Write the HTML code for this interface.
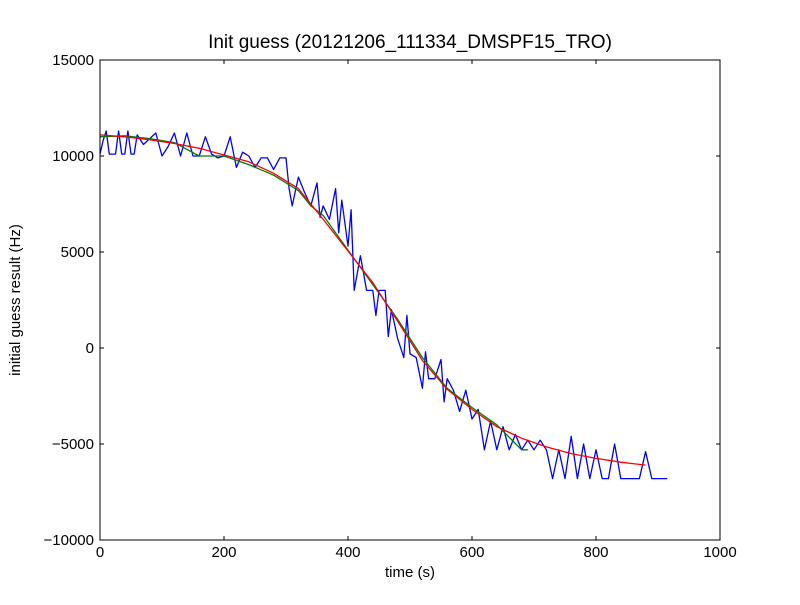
<!DOCTYPE html>
<html><head><meta charset="utf-8"><style>
body{margin:0;background:#fff;width:800px;height:600px;overflow:hidden}
svg{font-family:"Liberation Sans","DejaVu Sans",sans-serif}
</style></head><body>
<svg id="c" width="800" height="600">
<rect width="800" height="600" fill="#fff"/>
<text x="410" y="48" font-size="19" text-anchor="middle">Init guess (20121206_111334_DMSPF15_TRO)</text>
<text x="410" y="577" font-size="15" text-anchor="middle">time (s)</text>
<text x="20" y="300" font-size="15" text-anchor="middle" transform="rotate(-90 20 300)">initial guess result (Hz)</text>
<g id="ticks"></g>
<g id="series"></g>
<rect x="100" y="60" width="620" height="480" fill="none" stroke="#000" stroke-width="1"/>
</svg>
<script>
const xTicks=[0,200,400,600,800,1000];
const yTicks=[15000,10000,5000,0,-5000,-10000];
const yTickLabels=["15000","10000","5000","0","\u22125000","\u221210000"];
const blueT=[0,5,10,15,20,25,30,35,40,45,50,55,60,70,80,90,100,110,120,130,140,150,160,170,180,190,200,210,220,230,240,250,260,270,280,290,300,305,310,320,330,340,350,355,360,370,380,385,390,400,405,410,420,430,440,445,450,460,465,470,480,490,495,500,510,520,525,530,540,550,555,560,570,580,590,600,610,620,630,640,650,660,670,680,690,700,710,720,730,740,750,760,770,780,790,800,810,820,830,840,850,860,870,880,890,900,915];
const blueV=[10100,10800,11300,10100,10100,10100,11300,10100,10100,11300,10100,10100,11100,10600,10900,11200,10000,10500,11200,10000,11200,10000,10000,11000,10100,9900,10000,11000,9400,10200,10000,9400,9900,9900,9300,9900,9900,8300,7400,8900,8100,7400,8600,6800,7400,6700,8300,6000,7700,5300,7200,3000,4800,3000,3000,1700,3000,3000,600,2000,500,-500,1700,-300,-500,-2100,-200,-1600,-1600,-600,-2800,-1600,-2200,-3300,-2200,-3700,-3200,-5300,-3800,-5300,-4100,-5300,-4500,-5300,-4800,-5300,-4800,-5300,-6800,-5300,-6800,-4600,-6800,-5000,-6800,-5300,-6800,-6800,-5000,-6800,-6800,-6800,-6800,-5400,-6800,-6800,-6800];
const greenT=[0,40,80,120,160,200,240,280,320,340,360,400,440,480,520,560,600,640,680,690];
const greenV=[11000,11050,10900,10700,10000,10000,9550,9000,8200,7400,6900,5100,3300,1500,-500,-2100,-3100,-4000,-5300,-5300];
const redT=[0,40,80,120,160,200,240,280,320,360,400,440,480,520,560,600,640,680,720,760,800,840,880];
const redV=[11100,11000,10850,10650,10400,10050,9700,9100,8300,6700,5050,3400,1400,-650,-2150,-3200,-4100,-4700,-5150,-5500,-5750,-5950,-6100];
const X=v=>100+v*0.62, Y=v=>60+(15000-v)*0.0192;
const NS="http://www.w3.org/2000/svg";
const tk=document.getElementById('ticks'), sr=document.getElementById('series');
function mk(tag,attrs,parent,txt){const e=document.createElementNS(NS,tag);for(const k in attrs)e.setAttribute(k,attrs[k]);if(txt!==undefined)e.textContent=txt;parent.appendChild(e);return e;}
xTicks.forEach(v=>{
  const x=X(v);
  let l=mk('path',{d:`M${x},540V536M${x},60V64`,stroke:'#000'},tk);
  
  
  let t=mk('text',{x:x,y:557,'font-size':15,'text-anchor':'middle'},tk,String(v));
  
  
});
yTicks.forEach((v,i)=>{
  const y=Y(v);
  let l=mk('path',{d:`M100,${y}H104M720,${y}H716`,stroke:'#000'},tk);
  
  
  let t=mk('text',{x:94,y:y+5,'font-size':15,'text-anchor':'end'},tk,yTickLabels[i]);
  
  
});
function line(ts,vs,color,name){
  const d=ts.map((t,i)=>(i?'L':'M')+X(t).toFixed(1)+','+Y(vs[i]).toFixed(1)).join('');
  const p=mk('path',{d:d,fill:'none',stroke:color,'stroke-width':1.3,'stroke-linejoin':'round'},sr);
  
  
}
line(blueT,blueV,'#0000ff','raw-guess-line');
line(greenT,greenV,'#008000','smoothed-line');
line(redT,redV,'#ff0000','fit-line');
</script>
</body></html>
